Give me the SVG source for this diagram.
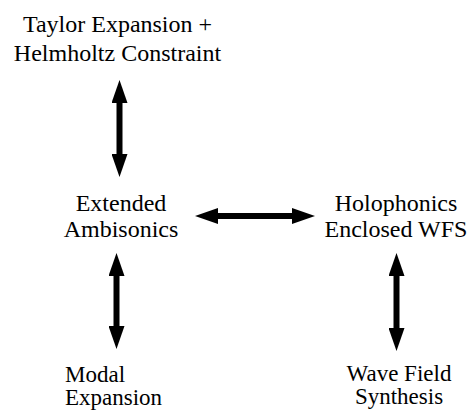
<svg xmlns="http://www.w3.org/2000/svg" width="472" height="412" viewBox="0 0 472 412">
<defs>
<style>
text{font-family:"Liberation Serif","DejaVu Serif",serif;font-size:24px;fill:#000}
.c{text-anchor:middle}
.b{font-size:23px}
.conn line{stroke:#000;stroke-width:6;marker-start:url(#ah);marker-end:url(#ah)}
</style>
<marker id="ah" viewBox="0 0 23 16" markerWidth="23" markerHeight="16" markerUnits="userSpaceOnUse" refX="2" refY="8" orient="auto-start-reverse">
<path d="M0,0 L23,8 L0,16 Z" fill="#000"/>
</marker>
</defs>
<rect width="472" height="412" fill="#fff"/>
<g id="taylor"><text class="c" x="117.5" y="32">Taylor Expansion +</text><text class="c" x="117.5" y="61">Helmholtz Constraint</text></g>
<g id="ambisonics"><text class="c" x="121" y="211">Extended</text><text class="c" x="121" y="237">Ambisonics</text></g>
<g id="holophonics"><text class="c" x="396" y="211">Holophonics</text><text class="c" x="396" y="237">Enclosed WFS</text></g>
<g id="modal"><text class="b" x="65" y="382">Modal</text><text class="b" x="65" y="405">Expansion</text></g>
<g id="wfs"><text class="c b" x="399" y="381">Wave Field</text><text class="c b" x="399" y="404">Synthesis</text></g>
<g id="connectors" class="conn">
<line x1="119.5" y1="101" x2="119.5" y2="156"/>
<line x1="216" y1="216" x2="294" y2="216"/>
<line x1="116.5" y1="274" x2="116.5" y2="328"/>
<line x1="396.5" y1="274" x2="396.5" y2="330"/>
</g>
</svg>
